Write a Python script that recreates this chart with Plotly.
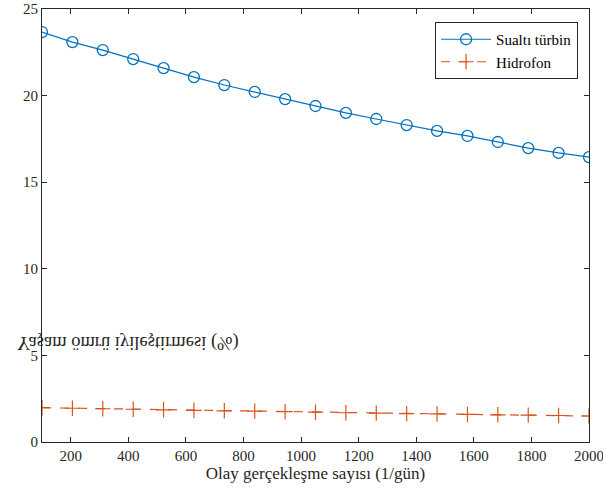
import plotly.graph_objects as go

x_events = [100, 205.6, 311.1, 416.7, 522.2, 627.8, 733.3, 838.9, 944.4, 1050,
            1155.6, 1261.1, 1366.7, 1472.2, 1577.8, 1683.3, 1788.9, 1894.4, 2000]
turbine = [23.67, 23.09, 22.63, 22.11, 21.59, 21.07, 20.61, 20.21, 19.80, 19.40,
           19.00, 18.65, 18.30, 17.96, 17.67, 17.32, 16.97, 16.69, 16.45]
hydrophone = [1.98, 1.95, 1.92, 1.89, 1.86, 1.83, 1.80, 1.78, 1.75, 1.72,
              1.69, 1.67, 1.64, 1.62, 1.59, 1.57, 1.55, 1.53, 1.50]
x_ticks = [200, 400, 600, 800, 1000, 1200, 1400, 1600, 1800, 2000]
y_ticks = [0, 5, 10, 15, 20, 25]

FONT = "Liberation Serif"
BLUE = "#0072BD"
RED = "#D95319"

fig = go.Figure()
fig.add_trace(go.Scatter(
    x=x_events, y=turbine, name="Sualtı türbin", mode="lines+markers",
    line=dict(color=BLUE, width=1.2),
    marker=dict(symbol="circle-open", size=11, color=BLUE, line=dict(width=1.3)),
))
fig.add_trace(go.Scatter(
    x=x_events, y=hydrophone, name="Hidrofon", mode="lines+markers",
    line=dict(color=RED, width=1.2, dash="dash"),
    marker=dict(symbol="cross-thin-open", size=11, color=RED, line=dict(width=1.2, color=RED)),
))

axis_common = dict(
    showline=True, linecolor="#262626", linewidth=1, mirror="ticks",
    ticks="inside", ticklen=5, tickcolor="#262626", tickwidth=1,
    showgrid=False, zeroline=False, automargin=False,
    ticklabeloverflow="allow",
    tickfont=dict(family=FONT, size=15, color="#262626"),
)

fig.update_layout(
    width=603, height=493,
    margin=dict(l=42, r=14, t=9, b=51),
    paper_bgcolor="white", plot_bgcolor="white",
    font=dict(family=FONT, color="#262626"),
    showlegend=True,
    legend=dict(
        x=0.98, y=0.97, xanchor="right", yanchor="top",
        bgcolor="white", bordercolor="#262626", borderwidth=1,
        font=dict(family=FONT, size=15, color="#000000"),
        tracegroupgap=0, itemwidth=50,
    ),
    xaxis=dict(
        range=[100, 2000], tickvals=x_ticks,
        title=dict(text="Olay gerçekleşme sayısı (1/gün)", font=dict(family=FONT, size=17, color="#262626"), standoff=2),
        **axis_common,
    ),
    yaxis=dict(
        range=[0, 25], tickvals=y_ticks,
        **axis_common,
    ),
)

fig.add_annotation(
    text="Yaşam ömrü iyileştirmesi (%)",
    xref="paper", yref="paper", x=-0.05, y=0.23, xanchor="left", yanchor="middle",
    showarrow=False, font=dict(family=FONT, size=18.5, color="#262626"),
)

post = """
document.querySelectorAll('.annotation-text').forEach(function(t){
  t.style.transformBox = 'fill-box';
  t.style.transformOrigin = 'center';
  t.style.transform = 'scaleY(-1)';
});
"""

fig.write_html("out.html", post_script=post)
